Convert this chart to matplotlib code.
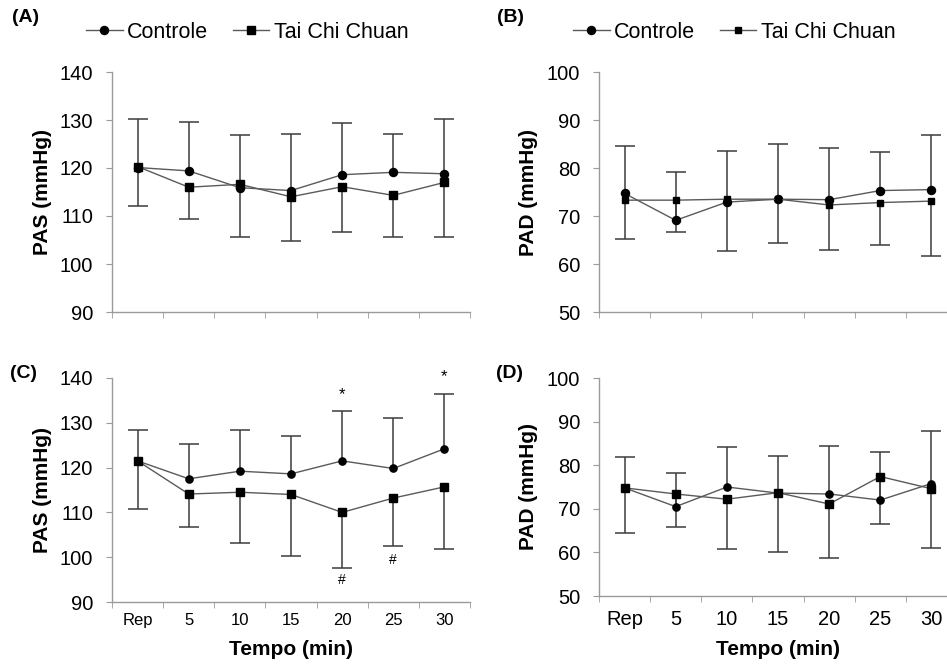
import numpy as np
import matplotlib
matplotlib.use("Agg")
import matplotlib.pyplot as plt

plt.rcParams['font.family'] = ['Liberation Sans', 'DejaVu Sans']

categories = ['Rep', '5', '10', '15', '20', '25', '30']

# (A) PAS - session 1
pas1_controle = [120.1, 119.4, 115.9, 115.3, 118.6, 119.1, 118.8]
pas1_controle_sd = [10.1, 10.2, 10.9, 11.7, 10.7, 7.9, 11.4]
pas1_tcc = [120.3, 116.0, 116.6, 114.0, 116.1, 114.3, 117.0]
pas1_tcc_sd = [8.2, 6.6, 10.9, 9.2, 9.5, 8.6, 11.3]

# (B) PAD - session 1
pad1_controle = [74.7, 69.1, 72.9, 73.5, 73.4, 75.3, 75.5]
pad1_controle_sd = [9.8, 10.1, 10.7, 11.4, 10.7, 8.1, 11.3]
pad1_tcc = [73.3, 73.3, 73.5, 73.5, 72.3, 72.8, 73.1]
pad1_tcc_sd = [8.1, 6.6, 10.8, 9.2, 9.3, 8.9, 11.4]

# (C) PAS - session 2
pas2_controle = [121.5, 117.5, 119.2, 118.6, 121.5, 119.8, 124.2]
pas2_controle_sd = [7.0, 7.8, 9.3, 8.5, 11.1, 11.2, 12.2]
pas2_tcc = [121.5, 114.1, 114.5, 114.0, 110.0, 113.2, 115.7]
pas2_tcc_sd = [10.7, 7.4, 11.3, 13.8, 12.3, 10.8, 13.8]

# (D) PAD - session 2
pad2_controle = [74.8, 70.5, 75.0, 73.6, 73.4, 72.0, 75.8]
pad2_controle_sd = [7.1, 7.8, 9.1, 8.6, 11.0, 11.0, 12.1]
pad2_tcc = [74.8, 73.4, 72.2, 73.7, 71.1, 77.4, 74.6]
pad2_tcc_sd = [10.4, 7.5, 11.5, 13.6, 12.4, 10.9, 13.7]

# significance marks in (C)
star_idx = [4, 6]
star_y = [136.3, 140.4]
hash_idx = [4, 5]
hash_y = [95.0, 99.4]

W, H = 947, 664
fig = plt.figure(figsize=(W / 100, H / 100), dpi=100)

axis_gray = '#9a9a9a'
line_gray = '#5a5a5a'
err_col = '#3c3c3c'


def make_axes(rect_px, ylim, yticks, ylabel, xlab=None, xtick_size=12, xpad=8,
              ylabel_x=-0.168, xlabel_y=-0.17):
    left, right, top, bottom = rect_px
    ax = fig.add_axes([left / W, 1 - bottom / H, (right - left) / W, (bottom - top) / H])
    ax.set_xlim(-0.5, 6.5)
    ax.set_ylim(*ylim)
    for s in ['top', 'right']:
        ax.spines[s].set_visible(False)
    for s in ['left', 'bottom']:
        ax.spines[s].set_color(axis_gray)
        ax.spines[s].set_linewidth(1.0)
    ax.set_yticks(yticks)
    ax.tick_params(axis='y', direction='out', length=4.5, color=axis_gray,
                   labelsize=14.5, pad=9)
    ax.set_xticks(np.arange(-0.5, 7.0, 1.0), minor=True)
    ax.tick_params(axis='x', which='minor', direction='out', length=4.5, color=axis_gray)
    ax.set_xticks(range(len(categories)))
    if xlab:
        ax.set_xticklabels(categories)
        ax.tick_params(axis='x', which='major', length=0, labelsize=xtick_size, pad=xpad)
        ax.set_xlabel(xlab, fontsize=15, fontweight='bold')
        ax.xaxis.set_label_coords(0.5, xlabel_y)
    else:
        ax.set_xticklabels([])
        ax.tick_params(axis='x', which='major', length=0)
    ax.set_ylabel(ylabel, fontsize=15, fontweight='bold')
    ax.yaxis.set_label_coords(ylabel_x, 0.5)
    return ax


def draw_series(ax, ctrl, ctrl_sd, tcc, tcc_sd, ms_c, ms_t):
    x = np.arange(len(categories))
    zeros = np.zeros(len(categories))
    eb = ax.errorbar(x, ctrl, yerr=[zeros, ctrl_sd], fmt='none', ecolor=err_col,
                     elinewidth=1.1, capsize=7, capthick=1.1, zorder=2)
    eb[1][0].set_visible(False)
    eb = ax.errorbar(x, tcc, yerr=[tcc_sd, zeros], fmt='none', ecolor=err_col,
                     elinewidth=1.1, capsize=7, capthick=1.1, zorder=2)
    eb[1][1].set_visible(False)
    l1, = ax.plot(x, ctrl, color=line_gray, lw=1.0, marker='o', ms=ms_c,
                  mfc='black', mec='black', zorder=3, label='Controle')
    l2, = ax.plot(x, tcc, color=line_gray, lw=1.0, marker='s', ms=ms_t,
                  mfc='black', mec='black', zorder=3, label='Tai Chi Chuan')
    return l1, l2


# (A)
axA = make_axes((112, 470, 72, 312), (90, 140), range(90, 141, 10), 'PAS (mmHg)')
hA = draw_series(axA, pas1_controle, pas1_controle_sd, pas1_tcc, pas1_tcc_sd, 5.8, 5.8)

# (B)
axB = make_axes((599, 957, 72, 312), (50, 100), range(50, 101, 10), 'PAD (mmHg)',
                ylabel_x=-0.170)
hB = draw_series(axB, pad1_controle, pad1_controle_sd, pad1_tcc, pad1_tcc_sd, 5.8, 4.3)

# (C)
axC = make_axes((112, 470, 378, 602), (90, 140), range(90, 141, 10), 'PAS (mmHg)',
                xlab='Tempo (min)', xtick_size=12, xpad=8, xlabel_y=-0.17)
draw_series(axC, pas2_controle, pas2_controle_sd, pas2_tcc, pas2_tcc_sd, 5.2, 5.8)
for i, y in zip(star_idx, star_y):
    axC.text(i, y, '*', ha='center', va='center', fontsize=12, clip_on=False)
for i, y in zip(hash_idx, hash_y):
    axC.text(i, y, '#', ha='center', va='center', fontsize=10, clip_on=False)

# (D)
axD = make_axes((599, 957, 378, 596), (50, 100), range(50, 101, 10), 'PAD (mmHg)',
                xlab='Tempo (min)', xtick_size=14.5, xpad=10, ylabel_x=-0.170,
                xlabel_y=-0.20)
draw_series(axD, pad2_controle, pad2_controle_sd, pad2_tcc, pad2_tcc_sd, 5.2, 5.8)

# legends
for ax, handles, x0 in [(axA, hA, 86), (axB, hB, 573)]:
    ax.legend(handles=handles, loc='center left', bbox_to_anchor=(x0 / W, 1 - 32 / H),
              bbox_transform=fig.transFigure, ncol=2, frameon=False, fontsize=15.5,
              handlelength=1.7, handletextpad=0.2, columnspacing=1.15,
              borderpad=0, borderaxespad=0)

# panel labels
for lab, x0, y0 in [('(A)', 12, 17), ('(B)', 497, 17), ('(C)', 10, 373), ('(D)', 496, 373)]:
    fig.text(x0 / W, 1 - y0 / H, lab, fontsize=14, fontweight='bold', ha='left', va='center')

fig.savefig('out.png', dpi=100)
